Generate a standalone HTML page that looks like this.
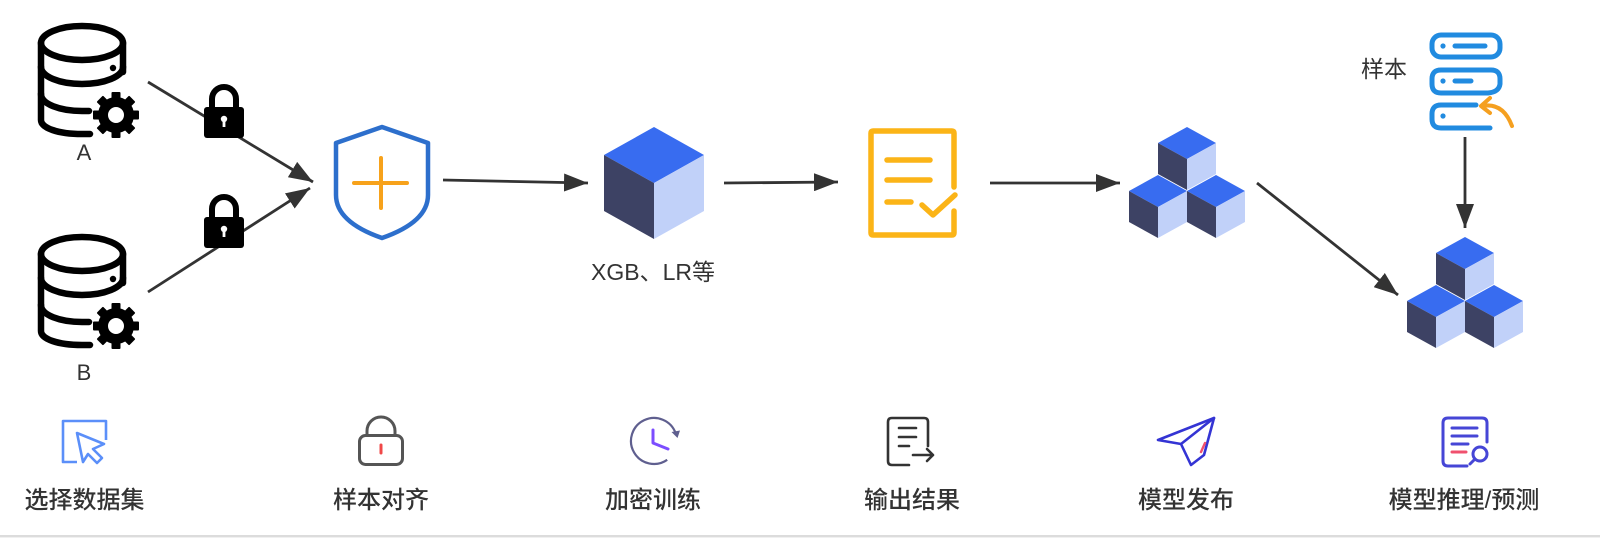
<!DOCTYPE html>
<html><head><meta charset="utf-8">
<style>
html,body{margin:0;padding:0;background:#fff;}
body{width:1600px;height:538px;overflow:hidden;}
svg{display:block;}
.lbl{font-family:"Liberation Sans","Noto Sans CJK SC",sans-serif;font-size:24px;font-weight:500;fill:#333;}
</style></head>
<body>
<svg width="1600" height="538" viewBox="0 0 1600 538" xmlns="http://www.w3.org/2000/svg">
<defs>
  <marker id="ah" viewBox="0 0 24 18" refX="24" refY="9" markerWidth="24" markerHeight="18" orient="auto" markerUnits="userSpaceOnUse">
    <path d="M0,0 L24,9 L0,18 Z" fill="#333"/>
  </marker>
  <g id="db">
    <g fill="none" stroke="#000" stroke-width="6.5" stroke-linecap="round">
      <ellipse cx="82" cy="43" rx="41" ry="17"/>
      <path d="M41,43 V120 C41,128 58,134 82,134 L90,134"/>
      <path d="M123,43 V72"/>
      <path d="M41,67 A41,17 0 0 0 123,67"/>
      <path d="M41,94 C41,104 60,111 82,111 L89,111"/>
    </g>
    <circle cx="113" cy="68" r="3.2" fill="#000"/>
    <g transform="translate(116,115)">
      <circle r="13" fill="none" stroke="#000" stroke-width="10"/>
      <g fill="#000">
        <rect x="-4.5" y="-23" width="9" height="8" rx="1"/>
        <rect x="-4.5" y="-23" width="9" height="8" rx="1" transform="rotate(45)"/>
        <rect x="-4.5" y="-23" width="9" height="8" rx="1" transform="rotate(90)"/>
        <rect x="-4.5" y="-23" width="9" height="8" rx="1" transform="rotate(135)"/>
        <rect x="-4.5" y="-23" width="9" height="8" rx="1" transform="rotate(180)"/>
        <rect x="-4.5" y="-23" width="9" height="8" rx="1" transform="rotate(225)"/>
        <rect x="-4.5" y="-23" width="9" height="8" rx="1" transform="rotate(270)"/>
        <rect x="-4.5" y="-23" width="9" height="8" rx="1" transform="rotate(315)"/>
      </g>
    </g>
  </g>
  <g id="lock">
    <path d="M212,110 V99 A12,12 0 0 1 236,99 V110" fill="none" stroke="#000" stroke-width="6"/>
    <rect x="204" y="107" width="40" height="31" rx="3" fill="#000"/>
    <circle cx="224" cy="119" r="3.2" fill="#fff"/>
    <rect x="222.6" y="119" width="2.8" height="8" fill="#fff"/>
  </g>
  <g id="cubes">
    <polygon points="1187,127 1216,143 1187,159 1158,143" fill="#386cf0"/>
    <polygon points="1158,143 1187,159 1187,190 1158,174" fill="#3d4264"/>
    <polygon points="1187,159 1216,143 1216,174 1187,190" fill="#c1d1f9"/>
    <polygon points="1158,175 1187,191 1158,207 1129,191" fill="#386cf0"/>
    <polygon points="1129,191 1158,207 1158,238 1129,222" fill="#3d4264"/>
    <polygon points="1158,207 1187,191 1187,222 1158,238" fill="#c1d1f9"/>
    <polygon points="1216,175 1245,191 1216,207 1187,191" fill="#386cf0"/>
    <polygon points="1187,191 1216,207 1216,238 1187,222" fill="#3d4264"/>
    <polygon points="1216,207 1245,191 1245,222 1216,238" fill="#c1d1f9"/>
  </g>
</defs>

<!-- databases -->
<use href="#db"/>
<use href="#db" transform="translate(0,211)"/>
<text x="84" y="160" text-anchor="middle" font-family="Liberation Sans, sans-serif" font-size="22" fill="#333">A</text>
<text x="84" y="380" text-anchor="middle" font-family="Liberation Sans, sans-serif" font-size="22" fill="#333">B</text>

<!-- arrows -->
<g stroke="#333" stroke-width="2.8" fill="none" marker-end="url(#ah)">
  <line x1="148" y1="82" x2="313" y2="182"/>
  <line x1="148" y1="292" x2="310" y2="188"/>
  <line x1="443" y1="180" x2="588" y2="183"/>
  <line x1="724" y1="183" x2="838" y2="182"/>
  <line x1="990" y1="183" x2="1120" y2="183"/>
  <line x1="1257" y1="183" x2="1398" y2="295"/>
  <line x1="1465" y1="137" x2="1465" y2="228"/>
</g>

<!-- locks -->
<use href="#lock"/>
<use href="#lock" transform="translate(0,110)"/>

<!-- shield -->
<path d="M382,127 L428,143 L428,195 Q428,222 382,238 Q336,222 336,195 L336,143 Z" fill="none" stroke="#2d6fcc" stroke-width="4.5" stroke-linejoin="round"/>
<path d="M354,183 H407 M381,158 V208" stroke="#f7a21b" stroke-width="4" stroke-linecap="round"/>

<!-- single cube -->
<polygon points="654,127 704,155 654,183 604,155" fill="#386cf0"/>
<polygon points="604,155 654,183 654,239 604,211" fill="#3d4264"/>
<polygon points="654,183 704,155 704,211 654,239" fill="#c1d1f9"/>
<text x="653" y="280" text-anchor="middle" font-family="Liberation Sans, 'Noto Sans CJK SC', sans-serif" font-size="23" fill="#333">XGB、LR等</text>

<!-- yellow document -->
<g fill="none" stroke="#fbb417" stroke-width="5.5" stroke-linecap="round" stroke-linejoin="round">
  <path d="M954,187 V133 Q954,131 952,131 H873 Q871,131 871,133 V233 Q871,235 873,235 H952 Q954,235 954,233 V211"/>
  <path d="M887,160 H930 M887,180 H930 M887,202 H911"/>
  <path d="M922,205 L933,215 L955,195"/>
</g>

<!-- cube groups -->
<use href="#cubes"/>
<use href="#cubes" transform="translate(278,110)"/>

<!-- server icon -->
<g fill="none" stroke="#218be0" stroke-width="5" stroke-linecap="round" stroke-linejoin="round">
  <rect x="1432" y="35" width="68" height="22" rx="9"/>
  <path d="M1441,93 Q1432,93 1432,84 V79 Q1432,70 1441,70 H1491 Q1500,70 1500,79 V84 Q1499,92 1488,93 Z"/>
  <path d="M1476,105 H1441 Q1432,105 1432,114 V119 Q1432,128 1441,128 H1490"/>
  <path d="M1455,46 H1485 M1455,81 H1471"/>
</g>
<g fill="#218be0">
  <circle cx="1443" cy="46" r="2.6"/>
  <circle cx="1443" cy="81" r="2.6"/>
  <circle cx="1443" cy="116" r="2.6"/>
</g>
<g fill="none" stroke="#f5a020" stroke-width="4" stroke-linecap="round" stroke-linejoin="round">
  <path d="M1482,106 Q1503,102 1512,126"/>
  <path d="M1490,98 L1481,106 L1490,113"/>
</g>
<text x="1384" y="77" text-anchor="middle" font-family="Liberation Sans, 'Noto Sans CJK SC', sans-serif" font-size="23" fill="#333">样本</text>

<!-- bottom icons -->
<!-- cursor -->
<g fill="none" stroke="#5b8ff9" stroke-width="2.6" stroke-linejoin="round">
  <path d="M77,462 H63 V421 H106 V440"/>
  <path d="M77,433 L104,444 L93,449 L102,458 L97,463 L88,454 L83,462 Z"/>
</g>
<!-- lock -->
<g fill="none" stroke="#555" stroke-width="3">
  <path d="M367,436 V431 A14,14 0 0 1 395,431 V436"/>
  <rect x="359.5" y="435.5" width="43" height="29" rx="6"/>
</g>
<path d="M381,445 V453" stroke="#f04848" stroke-width="3" stroke-linecap="round"/>
<!-- clock -->
<path d="M667.2,459.8 A23,23 0 1 1 675.6,433.1" fill="none" stroke="#5f5f8f" stroke-width="2.2"/>
<polygon points="671.5,432 680,430.5 677.5,438" fill="#5f5f8f"/>
<path d="M653,430 V443 L668,449" fill="none" stroke="#7c4dff" stroke-width="3" stroke-linecap="round" stroke-linejoin="round"/>
<!-- doc arrow -->
<g fill="none" stroke="#333" stroke-width="2.6" stroke-linecap="round" stroke-linejoin="round">
  <path d="M928,446 V422 Q928,418 924,418 H892 Q888,418 888,422 V461 Q888,465 892,465 H909"/>
  <path d="M899,428 H916 M899,437 H916 M899,446 H909"/>
  <path d="M913,455 H933 M927,449 L933,455 L927,461"/>
</g>
<!-- plane -->
<g fill="none" stroke="#3434d4" stroke-width="2.6" stroke-linejoin="round" stroke-linecap="round">
  <path d="M1214,418 L1158,440 L1181,444 L1191,465 L1204,455 Z"/>
  <path d="M1181,444 L1214,418"/>
</g>
<path d="M1205,443 L1201,452" stroke="#f0506e" stroke-width="2.4" stroke-linecap="round"/>
<!-- doc search -->
<g fill="none" stroke="#4646d6" stroke-width="3" stroke-linecap="round" stroke-linejoin="round">
  <path d="M1487,442 V423 Q1487,418 1482,418 H1448 Q1443,418 1443,423 V461 Q1443,466 1448,466 H1467"/>
  <path d="M1452,428 H1477 M1452,436 H1477 M1452,444 H1468"/>
  <circle cx="1480" cy="454" r="7"/>
  <path d="M1475,459 L1470,464"/>
</g>
<path d="M1452,452 H1466" stroke="#f0506e" stroke-width="3" stroke-linecap="round"/>

<!-- bottom labels -->
<text class="lbl" x="84.5" y="508" text-anchor="middle">选择数据集</text>
<text class="lbl" x="381" y="508" text-anchor="middle">样本对齐</text>
<text class="lbl" x="653" y="508" text-anchor="middle">加密训练</text>
<text class="lbl" x="912" y="508" text-anchor="middle">输出结果</text>
<text class="lbl" x="1186" y="508" text-anchor="middle">模型发布</text>
<text class="lbl" x="1464" y="508" text-anchor="middle">模型推理/预测</text>

<!-- bottom border -->
<rect x="0" y="535" width="1600" height="2" fill="#dcdcdc"/>
<rect x="0" y="537" width="1600" height="1" fill="#f0f0f0"/>
</svg>
</body></html>
